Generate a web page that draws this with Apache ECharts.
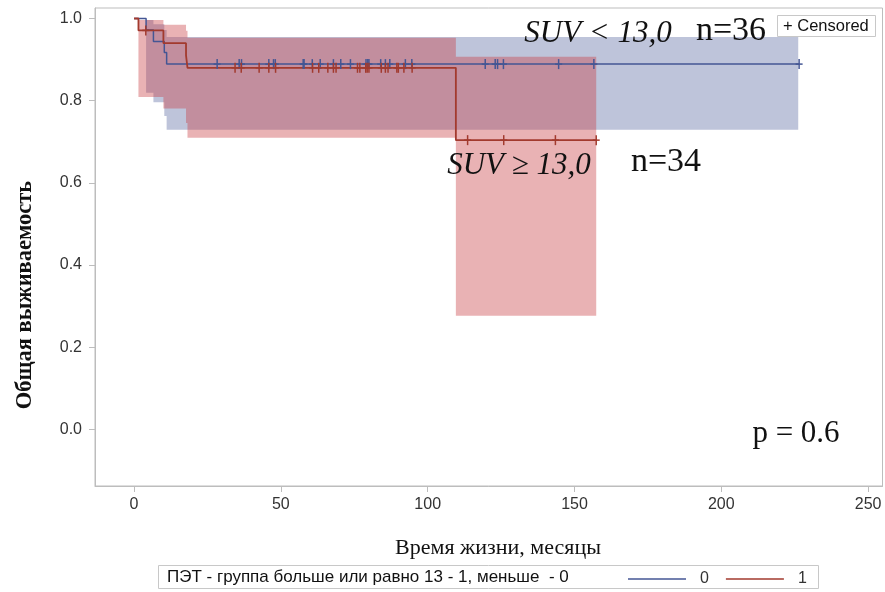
<!DOCTYPE html>
<html>
<head>
<meta charset="utf-8">
<script src="https://cdn.jsdelivr.net/npm/echarts@6/dist/echarts.min.js"></script>
<style>
  html, body { margin: 0; padding: 0; background: #fff; }
  #chart { width: 885px; height: 592px; }
</style>
</head>
<body>
<div id="chart"></div>
<script>
// Kaplan–Meier overall survival by PET group: 0 (SUV < 13,0) and 1 (SUV ≥ 13,0)
const xTicks = [0, 50, 100, 150, 200, 250];
const yTicks = [0, 0.2, 0.4, 0.6, 0.8, 1.0];

// survival steps (time in months, survival after the event at that time)
const group0Times = [0, 4.1, 6.6, 10.3, 11.1, 226.5];
const group0Surv  = [1.0, 0.972, 0.944, 0.917, 0.889, 0.889];
const group1Times = [0, 1.5, 10.0, 17.7, 18.2, 109.6, 157.4];
const group1Surv  = [1.0, 0.971, 0.940, 0.910, 0.880, 0.704, 0.704];

// pointwise confidence bands
const group0BandFrom  = [4.1, 6.6, 10.3, 11.1];
const group0BandTo    = [6.6, 10.3, 11.1, 226.2];
const group0BandLower = [0.819, 0.796, 0.763, 0.729];
const group0BandUpper = [0.996, 0.986, 0.972, 0.955];

const group1BandFrom  = [1.5, 10.0, 17.7, 18.2, 109.6];
const group1BandTo    = [10.0, 17.7, 18.2, 109.6, 157.4];
const group1BandLower = [0.809, 0.781, 0.746, 0.710, 0.277];
const group1BandUpper = [0.996, 0.985, 0.970, 0.953, 0.907];

// censored observations (months)
const group0Censored = [28.3, 35.8, 36.6, 45.9, 47.5, 48.1, 57.6, 57.9, 60.7, 63.4, 67.9, 70.4,
  73.7, 79.0, 79.6, 80.0, 84.0, 85.6, 87.1, 92.4, 94.6, 119.6, 123.0, 123.8, 125.8, 144.6,
  156.6, 226.5];
const group1Censored = [4.0, 34.4, 36.5, 42.6, 45.9, 48.2, 60.8, 62.9, 66.0, 67.9, 68.8, 76.1,
  76.9, 78.9, 79.4, 80.0, 84.2, 85.6, 86.5, 89.5, 90.0, 91.9, 94.7, 113.6, 125.9, 143.5, 157.4];

const BLUE = '#445694';
const RED = '#A23A2E';
const SERIF = '"Liberation Serif", "Times New Roman", serif';
const SANS = '"Liberation Sans", Arial, sans-serif';

function zip(a, b) { return a.map((v, i) => [v, b[i]]); }
function survivalAt(times, surv, t) {
  let s = surv[0];
  for (let i = 0; i < times.length; i++) if (times[i] <= t) s = surv[i];
  return s;
}
function bandRows(from, to, lo, hi) {
  return from.map((f, i) => [f, to[i], lo[i], hi[i]]);
}

// draws a whole step band as one polygon so the translucent fill has no seams
function bandSeries(name, rows, fill) {
  return {
    type: 'custom', name: name, silent: true, z: 1,
    data: rows,
    encode: { x: [0, 1], y: [2, 3] },
    renderItem: function (params, api) {
      if (params.dataIndex !== 0) return null;
      const upper = [], lower = [];
      rows.forEach(r => {
        upper.push(api.coord([r[0], r[3]]), api.coord([r[1], r[3]]));
        lower.push(api.coord([r[0], r[2]]), api.coord([r[1], r[2]]));
      });
      return {
        type: 'polygon',
        shape: { points: upper.concat(lower.reverse()) },
        style: { fill: fill, stroke: null }
      };
    }
  };
}

function censorSeries(name, times, stepTimes, stepSurv, color) {
  return {
    type: 'custom', name: name, silent: true, z: 4,
    data: times.map(t => [t, survivalAt(stepTimes, stepSurv, t)]),
    encode: { x: 0, y: 1 },
    renderItem: function (params, api) {
      const p = api.coord([api.value(0), api.value(1)]);
      const st = { stroke: color, lineWidth: 1.5 };
      return {
        type: 'group',
        children: [
          { type: 'line', shape: { x1: p[0], y1: p[1] - 5, x2: p[0], y2: p[1] + 5 }, style: st },
          { type: 'line', shape: { x1: p[0] - 3.5, y1: p[1], x2: p[0] + 3.5, y2: p[1] }, style: st }
        ]
      };
    }
  };
}

function label(text, x, y, font, align, extra) {
  return Object.assign({
    type: 'text', x: x, y: y, z: 11,
    style: { text: text, font: font, fill: '#111',
             textAlign: align, textVerticalAlign: 'middle', align: align, verticalAlign: 'middle' }
  }, extra || {});
}

const chart = echarts.init(document.getElementById('chart'), null, { renderer: 'canvas' });

chart.setOption({
  animation: false,
  backgroundColor: '#fff',
  grid: {
    left: 95, right: 2.5, top: 8, bottom: 106,
    show: true, borderColor: '#bdbdbd', borderWidth: 1, backgroundColor: 'transparent'
  },
  xAxis: {
    type: 'value', min: -13.3, max: 254.9,
    axisLine: { show: true, onZero: false, lineStyle: { color: '#bdbdbd', width: 1 } },
    axisTick: { show: true, customValues: xTicks, length: 6, lineStyle: { color: '#bdbdbd' } },
    axisLabel: { customValues: xTicks, color: '#333', fontFamily: SANS, fontSize: 16, margin: 11 },
    splitLine: { show: false }
  },
  yAxis: {
    type: 'value', min: -0.1375, max: 1.0255,
    axisLine: { show: true, onZero: false, lineStyle: { color: '#bdbdbd', width: 1 } },
    axisTick: { show: true, customValues: yTicks, length: 6, lineStyle: { color: '#bdbdbd' } },
    axisLabel: {
      customValues: yTicks, color: '#333', fontFamily: SANS, fontSize: 16, margin: 13,
      formatter: v => v.toFixed(1)
    },
    splitLine: { show: false }
  },
  legend: {
    data: [
      { name: '0', itemStyle: { color: BLUE } },
      { name: '1', itemStyle: { color: RED } }
    ],
    left: 623, top: 566,
    itemWidth: 58, itemHeight: 1.5, itemGap: 17,
    icon: 'rect',
    textStyle: { fontFamily: SANS, fontSize: 16, color: '#333', padding: [0, 0, 0, 9] },
    selectedMode: false
  },
  series: [
    bandSeries('band0', bandRows(group0BandFrom, group0BandTo, group0BandLower, group0BandUpper),
      'rgba(68,86,148,0.35)'),
    bandSeries('band1', bandRows(group1BandFrom, group1BandTo, group1BandLower, group1BandUpper),
      'rgba(200,62,67,0.40)'),
    {
      type: 'line', name: '0', step: 'end', z: 3,
      data: zip(group0Times, group0Surv),
      showSymbol: false, symbol: 'none',
      lineStyle: { color: BLUE, width: 1.5 }, itemStyle: { color: BLUE }
    },
    {
      type: 'line', name: '1', step: 'end', z: 3,
      data: zip(group1Times, group1Surv),
      showSymbol: false, symbol: 'none',
      lineStyle: { color: RED, width: 1.8 }, itemStyle: { color: RED }
    },
    censorSeries('cens0', group0Censored, group0Times, group0Surv, BLUE),
    censorSeries('cens1', group1Censored, group1Times, group1Surv, RED)
  ],
  graphic: [
    // "Censored" inset key
    { type: 'rect', shape: { x: 777.5, y: 15.5, width: 98, height: 21 },
      style: { fill: '#fff', stroke: '#c8c8c8', lineWidth: 1 }, z: 10 },
    label('+ Censored', 783, 26, '16.5px ' + SANS, 'left'),
    // group annotations
    label('SUV < 13,0', 598, 34, 'italic 31px ' + SERIF, 'center'),
    label('n=36', 731, 31, '34px ' + SERIF, 'center'),
    label('SUV ≥ 13,0', 519, 166, 'italic 31px ' + SERIF, 'center'),
    label('n=34', 666, 162, '34px ' + SERIF, 'center'),
    label('p = 0.6', 796, 434, '31px ' + SERIF, 'center'),
    // axis titles
    label('Время жизни, месяцы', 498, 548, '22px ' + SERIF, 'center'),
    label('Общая выживаемость', 25, 295, 'bold 22.5px ' + SERIF, 'center', { rotation: Math.PI / 2 }),
    // bottom legend frame and title
    { type: 'rect', shape: { x: 158.5, y: 565.5, width: 660, height: 23 },
      style: { fill: 'transparent', stroke: '#c8c8c8', lineWidth: 1 }, z: 0 },
    label('ПЭТ - группа больше или равно 13 - 1, меньше  - 0', 167, 577, '17px ' + SANS, 'left')
  ]
});
</script>
</body>
</html>
